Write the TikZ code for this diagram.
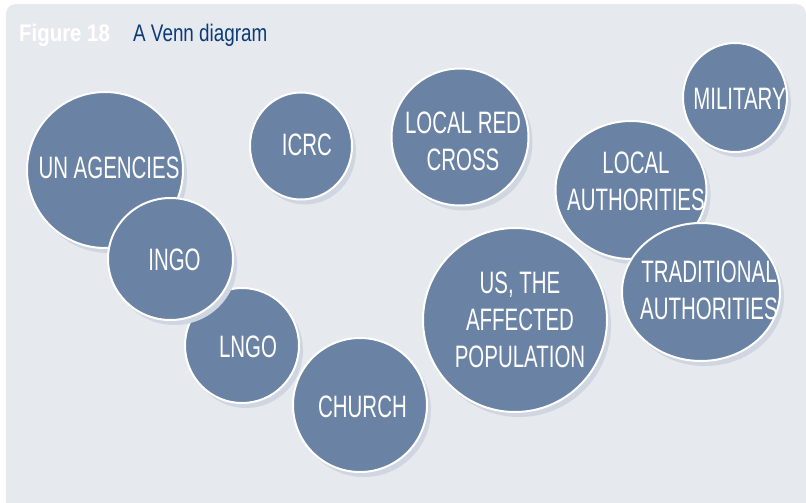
\documentclass[tikz,border=0pt]{standalone}
\usepackage{fontspec}
\usetikzlibrary{shapes.geometric,shadows}
\newfontfamily\circfont[FakeStretch=0.66]{Liberation Sans}
\newfontfamily\figfont[FakeStretch=0.85]{Liberation Sans}
\newfontfamily\ttlfont[FakeStretch=0.785]{Liberation Sans}
\definecolor{panelbg}{HTML}{E6E9EE}
\definecolor{circfill}{HTML}{6A82A4}
\definecolor{shadowcol}{HTML}{CFD6E1}
\definecolor{titlenavy}{HTML}{0B3A78}
\tikzset{
  bubble/.style={ellipse, inner sep=0pt, fill=circfill, draw=white, line width=2pt,
    drop shadow={shadow xshift=4pt, shadow yshift=-5pt, fill=shadowcol, opacity=1, draw=none}},
  lbl/.style={inner sep=0pt, text=white, align=center,
    font=\circfont\fontsize{31}{37}\selectfont},
}
\begin{document}
\begin{tikzpicture}[x=1pt,y=-1pt]
\useasboundingbox (0,0) rectangle (806,503);
\fill[white] (0,0) rectangle (806,503);
\fill[panelbg, rounded corners=10pt] (6,4) rectangle (806,530);
% title
\node[anchor=base west, inner sep=0pt, text=white, font=\figfont\bfseries\fontsize{24}{28}\selectfont] (fig) at (19,42) {Figure 18};
\node[anchor=base west, inner sep=0pt, text=titlenavy, font=\ttlfont\fontsize{24}{28}\selectfont] (ttl) at (133,42) {A Venn diagram};
% circles
\node[bubble, minimum width=156pt, minimum height=156pt] (un) at (105,170) {};
\node[bubble, minimum width=102pt, minimum height=107pt] (icrc) at (301,146) {};
\node[bubble, minimum width=137pt, minimum height=137pt] (lrc) at (460,137) {};
\node[bubble, minimum width=104pt, minimum height=109pt] (mil) at (735,97.5) {};
\node[bubble, minimum width=151pt, minimum height=138pt] (la) at (631,190) {};
\node[bubble, minimum width=158pt, minimum height=138pt] (trad) at (701,292) {};
\node[bubble, minimum width=184pt, minimum height=184pt] (us) at (515,320) {};
\node[bubble, minimum width=114pt, minimum height=115pt] (lngo) at (242,345.5) {};
\node[bubble, minimum width=125pt, minimum height=122pt] (ingo) at (170.5,259) {};
\node[bubble, minimum width=134pt, minimum height=134pt] (church) at (360,405) {};
% labels
\node[lbl] (tun) at (109,168) {UN AGENCIES};
\node[lbl] (ticrc) at (307,145) {ICRC};
\node[lbl] (tlrc) at (463,141) {LOCAL RED\\CROSS};
\node[lbl] (tmil) at (739.5,98.5) {MILITARY};
\node[lbl] (tla) at (636,181.5) {LOCAL\\AUTHORITIES};
\node[lbl] (ttrad) at (709,290.5) {TRADITIONAL\\AUTHORITIES};
\node[lbl] (tus) at (520,320) {US, THE\\AFFECTED\\POPULATION};
\node[lbl] (tlngo) at (248,347) {LNGO};
\node[lbl] (tingo) at (174.5,259.5) {INGO};
\node[lbl] (tchurch) at (362.5,407) {CHURCH};
\end{tikzpicture}
\end{document}
